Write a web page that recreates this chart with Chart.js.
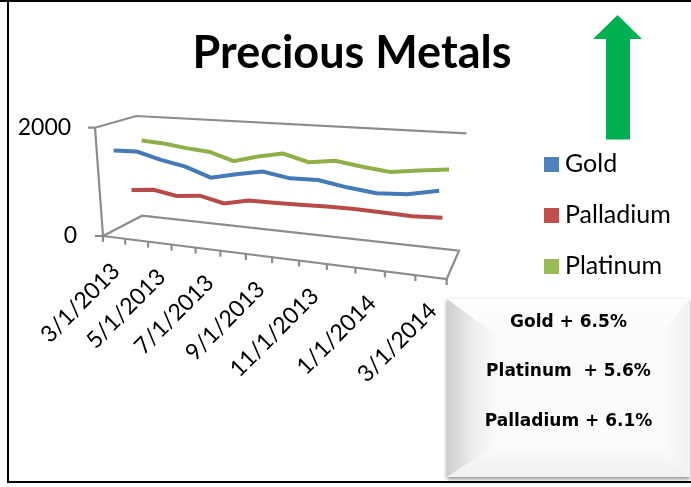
<!DOCTYPE html>
<html>
<head>
<meta charset="utf-8">
<title>Precious Metals</title>
<script src="https://cdn.jsdelivr.net/npm/chart.js@4/dist/chart.umd.min.js"></script>
<style>
  html, body { margin: 0; padding: 0; background: #fff; }
  canvas { display: block; }
</style>
</head>
<body>
<canvas id="metals" width="691" height="487"></canvas>
<script>
const dates = ['3/1/2013', '4/1/2013', '5/1/2013', '6/1/2013', '7/1/2013', '8/1/2013', '9/1/2013',
  '10/1/2013', '11/1/2013', '12/1/2013', '1/1/2014', '2/1/2014', '3/1/2014'];
const gold = [1600, 1610, 1495, 1410, 1255, 1348, 1430, 1355, 1365, 1285, 1230, 1255, 1350];
const palladium = [758, 800, 726, 774, 672, 771, 773, 780, 797, 798, 783, 770, 790];
const platinum = [1604, 1577, 1519, 1477, 1340, 1458, 1542, 1420, 1478, 1408, 1355, 1417, 1465];
const yTicks = [0, 2000];
const notes = ['Gold + 6.5%', 'Platinum  + 5.6%', 'Palladium + 6.1%'];

// corners of the 3d box as seen in the picture, w* is the perspective
const F0 = [103, 236], Fu = [446.7, 279], Fv = [95, 127.7], Bd = [142, 215.7];
const wu = -0.17, wv = -0.04, wd = 0.0908;
const depths = [0.05, 0.41, 0.74];

function project(u, v, d) {
  const w = 1 + wu * u + wv * v + wd * d;
  return [0, 1].map(k => (F0[k] + (Fu[k] * (1 + wu) - F0[k]) * u + (Fv[k] * (1 + wv) - F0[k]) * v
    + (Bd[k] * (1 + wd) - F0[k]) * d) / w);
}

function swatch(color) {
  const c = document.createElement('canvas');
  c.width = c.height = 15;
  const g = c.getContext('2d');
  g.fillStyle = color;
  g.fillRect(0, 0, 15, 15);
  return c;
}

function polyline(ctx, pts) {
  ctx.beginPath();
  pts.forEach((p, i) => i ? ctx.lineTo(p[0], p[1]) : ctx.moveTo(p[0], p[1]));
  ctx.stroke();
}

function fillPoly(ctx, pts, fill) {
  ctx.fillStyle = fill;
  ctx.beginPath();
  pts.forEach((p, i) => i ? ctx.lineTo(p[0], p[1]) : ctx.moveTo(p[0], p[1]));
  ctx.closePath();
  ctx.fill();
}

function flatU(chart, i) {
  const a = chart.chartArea;
  return (chart.scales.x.getPixelForValue(i) - a.left) / a.width;
}

const box3d = {
  id: 'box3d',
  afterLayout(chart) {
    const l = chart.legend;
    const w = l.width;
    l.left = 523.5; l.right = l.left + w;
    l.top = 125.5;
  },
  afterDatasetsUpdate(chart) {
    const a = chart.chartArea;
    chart.data.datasets.forEach((ds, n) => {
      chart.getDatasetMeta(n).data.forEach(pt => {
        const u = (pt.x - a.left) / a.width * 0.995 + 0.012;
        const v = (a.bottom - pt.y) / a.height;
        const p = project(u, v, depths[n]);
        pt.x = p[0];
        pt.y = p[1];
      });
    });
  },
  beforeDatasetsDraw(chart) {
    const ctx = chart.ctx;
    ctx.save();
    ctx.strokeStyle = '#8c8c8c';
    ctx.lineWidth = 2.2;
    polyline(ctx, [[88, 127.7], project(0, 1, 0), project(0, 1, 1), project(1, 1, 1)]);
    polyline(ctx, [project(0, 1, 0), project(0, 0, 0)]);
    polyline(ctx, [[95, 236], project(0, 0, 0), project(1, 0, 0), project(1, 0, 1), project(0, 0, 1), project(0, 0, 0)]);
    for (let i = 0; i <= dates.length; i++) {
      const p = project(i / dates.length, 0, 0);
      polyline(ctx, [p, [p[0], p[1] + 6]]);
    }
    ctx.restore();
  },
  afterDraw(chart) {
    const ctx = chart.ctx;
    ctx.save();
    // date labels follow the slanted floor
    ctx.fillStyle = '#000';
    ctx.font = '23px Lato';
    ctx.textAlign = 'right';
    ctx.textBaseline = 'middle';
    dates.forEach((label, i) => {
      if (i % 2) return;
      const p = project(flatU(chart, i), 0, 0);
      ctx.save();
      ctx.translate(p[0] + 2, p[1] + 30);
      ctx.rotate(-Math.PI / 4);
      ctx.fillText(label, 0, 0);
      ctx.restore();
    });

    // green arrow
    fillPoly(ctx, [[606, 139.5], [606, 39], [593, 39], [617.5, 15], [642, 39], [630, 39], [630, 139.5]], '#00B050');

    // frame
    ctx.fillStyle = '#000';
    ctx.fillRect(0, 0, 691, 2);
    ctx.fillRect(7, 0, 2, 483);
    ctx.fillRect(7, 481, 684, 2);

    // bevelled note box
    const L = 447, T = 299, R = 690, B = 477, iL = 497, iT = 335, iR = 660, iB = 445;
    ctx.save();
    ctx.shadowColor = 'rgba(0,0,0,0.45)';
    ctx.shadowBlur = 4;
    ctx.shadowOffsetY = 2;
    ctx.fillStyle = '#fff';
    ctx.fillRect(L, T, R - L, B - T);
    ctx.restore();
    ctx.fillStyle = '#fbfbfb';
    ctx.fillRect(iL, iT, iR - iL, iB - iT);
    const left = ctx.createLinearGradient(L, 0, iL, 0);
    left.addColorStop(0, '#cfcfcf');
    left.addColorStop(0.5, '#ececec');
    left.addColorStop(1, '#fbfbfb');
    fillPoly(ctx, [[L, T], [iL, iT], [iL, iB], [L, B]], left);
    const top = ctx.createLinearGradient(0, T, 0, iT);
    top.addColorStop(0, '#fdfdfd');
    top.addColorStop(1, '#fbfbfb');
    fillPoly(ctx, [[L, T], [R, T], [iR, iT], [iL, iT]], top);
    const right = ctx.createLinearGradient(iR, 0, R, 0);
    right.addColorStop(0, '#fbfbfb');
    right.addColorStop(1, '#f1f1f1');
    fillPoly(ctx, [[R, T], [R, B], [iR, iB], [iR, iT]], right);
    const bottom = ctx.createLinearGradient(0, iB, 0, B);
    bottom.addColorStop(0, '#fbfbfb');
    bottom.addColorStop(1, '#f0f0f0');
    fillPoly(ctx, [[L, B], [iL, iB], [iR, iB], [R, B]], bottom);

    ctx.fillStyle = '#000';
    ctx.font = 'bold 17px "DejaVu Sans"';
    ctx.textAlign = 'center';
    ctx.textBaseline = 'middle';
    notes.forEach((t, i) => ctx.fillText(t, 568.5, 322.5 + i * 49.5));
    ctx.restore();
  }
};

new Chart(document.getElementById('metals'), {
  type: 'line',
  data: {
    labels: dates,
    datasets: [
      { label: 'Gold', data: gold, borderColor: '#447ab8', backgroundColor: '#4F81BD', pointStyle: swatch('#4F81BD') },
      { label: 'Palladium', data: palladium, borderColor: '#b84a47', backgroundColor: '#C0504D', pointStyle: swatch('#C0504D') },
      { label: 'Platinum', data: platinum, borderColor: '#8fb049', backgroundColor: '#9BBB59', pointStyle: swatch('#9BBB59') }
    ]
  },
  options: {
    responsive: false,
    animation: false,
    events: [],
    clip: false,
    datasets: { line: { borderWidth: 4, pointRadius: 0, tension: 0, clip: false } },
    layout: { padding: { left: 13 } },
    plugins: {
      title: {
        display: true,
        text: 'Precious Metals',
        color: '#000',
        font: { family: 'Lato', weight: 'bold', size: 45, lineHeight: 1.2 },
        padding: { top: 26, bottom: 48 }
      },
      legend: {
        position: 'right',
        align: 'start',
        labels: {
          color: '#000',
          font: { family: 'Lato', size: 25 },
          usePointStyle: true,
          pointStyleWidth: 3,
          padding: 26
        }
      },
      tooltip: { enabled: false }
    },
    scales: {
      x: {
        offset: true,
        grid: { display: false },
        border: { display: false },
        ticks: { display: false, autoSkip: false },
        afterFit: s => { s.height = 251; }
      },
      y: {
        min: 0,
        max: 2000,
        grid: { display: false },
        border: { display: false },
        afterBuildTicks: s => { s.ticks = yTicks.map(v => ({ value: v })); },
        ticks: { color: '#000', padding: 5, font: { family: 'Lato', size: 23 }, callback: v => v ? v + ' ' : v },
        afterFit: s => { s.width = 77; }
      }
    }
  },
  plugins: [box3d]
});
</script>
</body>
</html>
